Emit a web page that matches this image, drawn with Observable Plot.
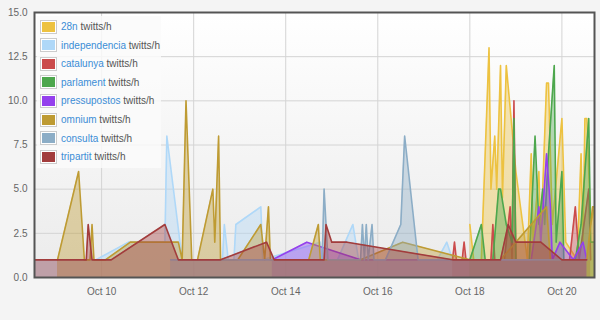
<!DOCTYPE html>
<html><head><meta charset="utf-8">
<script src="https://cdn.jsdelivr.net/npm/d3@7"></script>
<script src="https://cdn.jsdelivr.net/npm/@observablehq/plot@0.6"></script>
<style>
body{margin:0;background:#f4f4f4;font-family:"Liberation Sans",Arial,sans-serif}
#wrap{position:relative;width:600px;height:320px}
#legend{position:absolute;left:37px;top:16px;width:124px;height:152px;background:rgba(250,250,250,0.85)}
.row{position:absolute;left:3px;height:14px;display:flex;align-items:center;font-size:10px;white-space:nowrap}
.sw{width:13px;height:10px;border:1px solid #ccc;padding:1px;margin-right:4px;background:#fff}
.sw div{width:13px;height:10px}
.nm{color:#3a8dd6}
.un{color:#555}
</style></head>
<body>
<svg width="0" height="0" style="position:absolute"><defs><linearGradient id="bg" x1="0" y1="0" x2="0" y2="1"><stop offset="0" stop-color="#ffffff"/><stop offset="1" stop-color="#ebebeb"/></linearGradient></defs></svg>
<div id="wrap"><div id="chart"></div><div id="legend"></div></div>
<script>
const names = ["28n","independencia","catalunya","parlament","pressupostos","omnium","consulta","tripartit"];
const colors = ["#edc240","#afd8f8","#cb4b4b","#4da74d","#9440ed","#be9b33","#8cadc6","#a23c3c"];
const unit = " twitts/h";
const xTickLabels = ["10-10 00","10-12 00","10-14 00","10-16 00","10-18 00","10-20 00"];
const yTicks = [0,2.5,5,7.5,10,12.5,15];
const xDomain = ["10-08 13","10-20 17"];

const n28 = [["10-18 00",3],["10-18 02",1],["10-18 06",1],["10-18 10",13],["10-18 11",5],["10-18 13",8],["10-18 14",5],["10-18 16",12],["10-18 17",4.5],["10-18 19",12],["10-19 00",6],["10-19 06",1],["10-19 08",7],["10-19 09",2],["10-19 12",6],["10-19 13",2],["10-19 16",11],["10-19 17",11],["10-19 19",3],["10-20 00",9],["10-20 02",2],["10-20 08",1],["10-20 10",7],["10-20 11",2],["10-20 12",9],["10-20 13",9],["10-20 15",3],["10-20 17",4]];
const independencia = [["10-08 13",1],["10-09 21",1],["10-10 14",2],["10-11 09",2],["10-11 10",8],["10-11 18",1],["10-12 15",1],["10-12 16",3],["10-12 18",1],["10-12 21",1],["10-12 22",3],["10-13 11",4],["10-13 12",1],["10-14 18",2],["10-14 19",1],["10-15 03",1],["10-15 11",3],["10-15 14",1],["10-17 07",1],["10-17 12",2],["10-17 15",1],["10-18 00",1]];
const catalunya = [["10-17 15",1],["10-17 16",2],["10-17 17",1],["10-17 20",1],["10-17 21",2],["10-17 22",1],["10-18 11",1],["10-18 12",3],["10-18 13",1],["10-18 18",1],["10-18 21",4],["10-18 22",1],["10-18 23",10],["10-19 00",1],["10-20 04",1],["10-20 07",4],["10-20 09",1],["10-20 14",5],["10-20 15",1]];
const parlament = [["10-18 00",1],["10-18 03",2],["10-18 06",3],["10-18 08",1],["10-18 12",1],["10-18 15",5],["10-18 16",5],["10-18 19",3],["10-18 22",2],["10-18 23",9],["10-19 00",1],["10-19 07",1],["10-19 10",8],["10-19 12",3],["10-19 14",5],["10-19 15",3],["10-19 17",7],["10-19 20",12],["10-19 21",2],["10-20 00",6],["10-20 01",1],["10-20 07",1],["10-20 10",3],["10-20 14",9],["10-20 15",2],["10-20 17",2]];
const pressupostos = [["10-13 17",1],["10-14 11",2],["10-15 15",1],["10-19 08",1],["10-19 12",4],["10-19 13",2],["10-19 16",7],["10-19 18",4],["10-19 19",1],["10-19 23",2],["10-20 06",1],["10-20 11",2],["10-20 13",1]];
const omnium = [["10-09 01",1],["10-09 12",6],["10-09 15",1],["10-09 18",1],["10-09 19",3],["10-09 20",1],["10-10 02",1],["10-10 15",2],["10-11 16",2],["10-11 18",1],["10-11 20",10],["10-11 23",1],["10-12 02",1],["10-12 10",5],["10-12 11",2],["10-12 13",8],["10-12 14",1],["10-12 23",1],["10-13 11",3],["10-13 13",1],["10-13 15",4],["10-13 16",1],["10-14 12",1],["10-14 17",3],["10-14 18",1],["10-15 15",1],["10-16 13",2],["10-18 00",1],["10-18 16",1],["10-19 16",4],["10-19 18",1],["10-20 13",1],["10-20 16",4],["10-20 17",4]];
const consulta = [["10-11 12",1],["10-14 19",1],["10-14 20",5],["10-14 22",1],["10-15 15",1],["10-15 16",3],["10-15 17",1],["10-15 18",3],["10-15 19",1],["10-15 21",3],["10-15 22",1],["10-16 04",1],["10-16 12",3],["10-16 14",8],["10-16 21",1],["10-20 13",1]];
const tripartit = [["10-08 13",1],["10-09 16",1],["10-09 17",3],["10-09 19",1],["10-10 05",1],["10-11 09",3],["10-11 16",1],["10-12 14",1],["10-13 14",2],["10-13 18",1],["10-14 20",1],["10-14 21",3],["10-15 00",2],["10-15 08",2],["10-17 15",1],["10-18 16",1],["10-18 20",3],["10-19 00",2],["10-19 13",2],["10-20 00",1],["10-20 13",1]];

const series = [n28, independencia, catalunya, parlament, pressupostos, omnium, consulta, tripartit];
const parse = d3.utcParse("%Y-%m-%d %H");
const t = s => parse("2010-" + s.replace(/(\d\d)$/, "$1"));
const xTicks = xTickLabels.map(t);

const marks = [
  Plot.frame({fill: "url(#bg)"}),
  Plot.gridX(xTicks, {stroke: "#d4d4d4", strokeOpacity: 1}),
  Plot.gridY(yTicks, {stroke: "#d4d4d4", strokeOpacity: 1}),
];
series.forEach((s, i) => {
  marks.push(Plot.areaY(s, {x: d => t(d[0]), y: d => d[1], fill: colors[i], fillOpacity: 0.4}));
  marks.push(Plot.lineY(s, {x: d => t(d[0]), y: d => d[1], stroke: colors[i], strokeWidth: 1.6, strokeLinejoin: "round"}));
});
marks.push(
  Plot.frame({stroke: "#545454", strokeWidth: 2}),
  Plot.axisX(xTicks, {tickSize: 0, tickPadding: 10, tickFormat: d3.utcFormat("%b %d"), fontSize: 10, fill: "#666"}),
  Plot.axisY(yTicks, {tickSize: 0, tickPadding: 7, tickFormat: d => d.toFixed(1), fontSize: 10, fill: "#666"})
);

const chart = Plot.plot({
  width: 600, height: 320,
  marginLeft: 34, marginRight: 6, marginTop: 12, marginBottom: 43,
  style: {background: "transparent", fontFamily: "Liberation Sans, Arial, sans-serif"},
  x: {type: "utc", domain: xDomain.map(t)},
  y: {domain: [0, 15]},
  clip: true,
  marks
});
document.getElementById("chart").appendChild(chart);

const legend = document.getElementById("legend");
names.forEach((n, i) => {
  const row = document.createElement("div");
  row.className = "row";
  row.style.top = (3.7 + i * 18.57) + "px";
  row.innerHTML = `<div class="sw"><div style="background:${colors[i]}"></div></div><span class="nm">${n}</span><span class="un">&nbsp;twitts/h</span>`;
  legend.appendChild(row);
});
</script>
</body></html>
